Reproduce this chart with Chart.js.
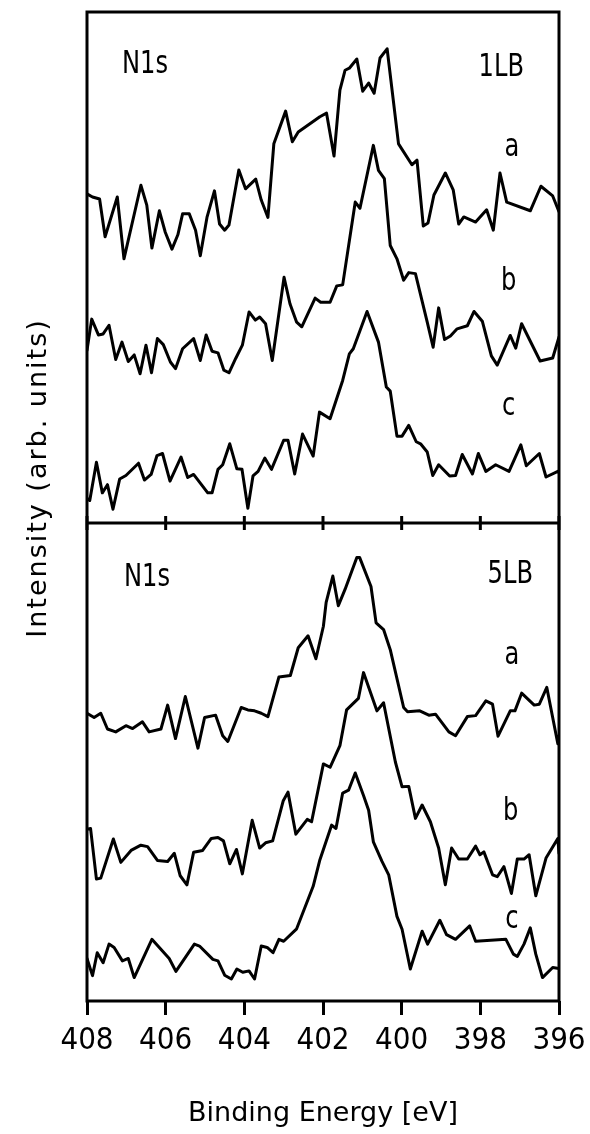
<!DOCTYPE html>
<html>
<head>
<meta charset="utf-8">
<script src="https://cdn.jsdelivr.net/npm/chart.js@4.4.1/dist/chart.umd.min.js"></script>
<style>
  html, body { margin: 0; padding: 0; background: #fff; }
  #wrap { position: relative; width: 590px; height: 1134px; }
</style>
</head>
<body>
<div id="wrap"><canvas id="xps" width="590" height="1134"></canvas></div>
<script>
// N1s spectra, binding energy (eV) vs intensity (arb. units)
// 1LB panel
const e1a = [408.00,407.86,407.68,407.54,407.23,407.06,406.63,406.48,406.35,406.16,406.01,405.84,405.69,405.57,405.40,405.24,405.12,404.95,404.76,404.63,404.50,404.39,404.14,403.97,403.71,403.57,403.40,403.25,402.95,402.78,402.63,402.08,401.91,401.72,401.57,401.44,401.33,401.14,400.99,400.84,400.70,400.55,400.37,400.08,399.74,399.61,399.45,399.33,399.18,398.89,398.69,398.55,398.42,398.12,397.84,397.67,397.50,397.33,396.73,396.46,396.16,396.00];
const i1a = [64.4,63.8,63.4,56.0,63.8,51.7,66.1,62.2,53.8,61.1,56.9,53.6,56.4,60.5,60.5,57.3,52.3,59.8,65.0,58.5,57.3,58.3,69.1,65.4,67.3,63.2,59.8,74.2,80.6,74.6,76.5,79.5,80.2,71.8,84.7,88.6,89.0,90.8,84.5,86.1,84.1,91.0,92.8,74.2,70.1,71.0,58.1,58.7,64.2,68.5,65.2,58.5,59.9,58.9,61.3,57.3,68.5,62.8,61.1,65.9,64.0,60.9];

const e1b = [408.00,407.88,407.71,407.59,407.44,407.27,407.11,406.95,406.80,406.65,406.50,406.36,406.21,406.06,405.88,405.75,405.57,405.29,405.12,404.97,404.82,404.67,404.52,404.39,404.22,404.05,403.88,403.72,403.61,403.46,403.29,402.99,402.84,402.67,402.54,402.20,402.06,401.82,401.65,401.50,401.18,401.06,400.72,400.59,400.44,400.29,400.12,399.95,399.82,399.65,399.35,399.20,399.06,398.91,398.76,398.59,398.33,398.16,397.95,397.72,397.57,397.24,397.10,396.95,396.48,396.16,396.00];
const i1b = [33.8,39.9,36.8,37.0,38.7,32.0,35.4,31.6,32.9,29.2,34.8,29.4,36.1,34.9,31.5,30.2,34.1,36.1,31.8,36.8,33.6,33.3,29.9,29.4,32.2,34.8,41.3,39.7,40.3,39.0,31.8,48.1,42.9,39.3,38.4,44.0,43.2,43.2,46.4,46.6,62.8,61.6,73.9,69.0,67.4,54.3,51.7,47.5,49.0,48.8,39.3,34.4,42.1,35.9,36.6,38.0,38.6,41.4,39.5,32.7,30.9,36.7,34.2,39.0,31.7,32.3,36.4];

const e1c = [408.00,407.93,407.76,407.61,407.48,407.34,407.17,407.01,406.69,406.54,406.37,406.22,406.08,405.89,405.61,405.44,405.29,404.93,404.82,404.67,404.55,404.37,404.19,404.06,403.91,403.78,403.65,403.48,403.31,403.00,402.89,402.72,402.52,402.25,402.09,401.82,401.50,401.33,401.23,400.88,400.59,400.39,400.29,400.12,399.99,399.82,399.63,399.52,399.35,399.21,399.06,398.78,398.63,398.46,398.20,398.05,397.86,397.61,397.27,396.97,396.83,396.50,396.33,396.03,396.00];
const i1c = [4.8,4.4,11.9,5.9,7.5,2.7,8.6,9.3,11.7,8.4,9.5,13.2,13.6,8.2,12.9,8.9,9.5,5.9,5.9,10.5,11.4,15.5,10.6,10.5,2.9,9.2,10.1,12.7,10.5,16.2,16.2,9.6,17.4,13.1,21.7,20.4,27.9,33.1,34.1,41.4,35.4,26.6,25.8,17.0,17.0,19.1,15.9,15.5,13.9,9.3,11.4,9.2,9.3,13.4,9.6,13.6,10.1,11.4,10.1,15.3,11.2,13.6,9.0,10.1,9.8];

// 5LB panel
const e5a = [408.00,407.82,407.65,407.48,407.27,407.01,406.84,406.59,406.42,406.12,405.95,405.75,405.50,405.18,405.01,404.73,404.55,404.42,404.08,403.91,403.74,403.57,403.40,403.12,402.83,402.63,402.38,402.18,401.99,401.92,401.75,401.61,401.44,401.14,401.07,400.78,400.65,400.46,400.29,399.95,399.85,399.54,399.31,399.14,398.80,398.63,398.33,398.12,397.86,397.69,397.55,397.24,397.12,396.95,396.63,396.50,396.31,396.03,396.00];
const i5a = [60.2,59.3,60.2,56.9,56.3,57.6,57.0,58.4,56.3,56.9,61.9,54.9,63.7,52.9,59.3,59.8,55.5,54.3,61.4,60.9,60.7,60.2,59.5,67.8,68.1,73.9,76.4,71.6,78.4,83.4,88.9,82.7,86.1,92.8,92.8,86.7,79.1,77.7,73.5,61.4,60.5,60.7,59.8,60.0,56.3,55.5,59.5,59.7,62.8,62.1,55.4,60.7,60.7,64.4,61.9,62.1,65.6,53.8,55.5];

const e5b = [408.00,407.91,407.76,407.65,407.33,407.14,406.88,406.63,406.46,406.21,405.95,405.78,405.63,405.46,405.29,405.06,404.84,404.67,404.53,404.37,404.20,404.05,403.80,403.61,403.46,403.28,403.01,402.89,402.69,402.40,402.29,401.99,401.82,401.57,401.40,401.10,400.97,400.63,400.46,400.16,399.99,399.82,399.65,399.48,399.27,399.06,398.89,398.73,398.55,398.33,398.12,398.01,397.91,397.69,397.57,397.40,397.21,397.06,396.89,396.76,396.59,396.33,396.03,396.00];
const i5b = [35.9,36.1,25.5,25.7,33.9,29.0,31.5,32.6,32.3,29.4,29.2,30.9,26.2,24.3,31.1,31.5,34.0,34.2,33.5,28.7,31.7,26.6,37.8,32.0,33.1,33.5,41.9,43.7,34.9,38.0,37.5,49.6,48.9,53.4,60.9,63.3,68.7,60.7,62.4,50.0,44.8,44.9,38.2,41.0,37.5,32.0,24.3,32.0,29.7,29.7,32.4,30.6,31.2,26.4,26.0,28.1,22.5,29.7,29.7,30.6,22.0,29.9,34.0,30.9];

const e5c = [408.00,407.86,407.74,407.59,407.44,407.31,407.10,406.95,406.80,406.35,405.91,405.74,405.27,405.14,404.80,404.67,404.50,404.33,404.19,404.04,403.88,403.74,403.57,403.42,403.27,403.12,403.00,402.67,402.25,402.08,401.78,401.67,401.50,401.35,401.18,400.97,400.84,400.72,400.50,400.33,400.12,399.99,399.78,399.48,399.34,399.03,398.86,398.63,398.27,398.12,397.35,397.16,397.06,396.89,396.73,396.59,396.42,396.16,396.00];
const i5c = [8.9,5.3,10.1,8.0,11.9,11.2,8.4,8.9,4.9,12.9,8.9,6.2,11.9,11.5,8.7,8.4,5.4,4.6,6.7,6.0,6.3,4.6,11.5,11.2,10.1,12.9,12.5,15.1,24.0,29.5,36.8,36.1,43.5,44.1,47.7,43.0,39.9,33.3,29.2,26.4,17.7,15.0,6.7,14.6,11.9,16.9,13.9,12.9,15.7,12.5,12.9,9.8,9.3,11.9,15.3,9.8,4.9,7.0,6.8];

const xTicks = [408, 406, 404, 402, 400, 398, 396];

// panel annotations: [text, energy, intensity, align]
const notesTop = [['N1s', 407.11, 89.6, 'left'], ['1LB', 396.89, 89.2, 'right'], ['a', 397.20, 73.4, 'center'], ['b', 397.28, 47.2, 'center'], ['c', 397.28, 22.7, 'center']];
const notesBot = [['N1s', 407.06, 88.6, 'left'], ['5LB', 396.66, 89.1, 'right'], ['a', 397.20, 72.3, 'center'], ['b', 397.23, 39.7, 'center'], ['c', 397.20, 17.0, 'center']];

const NARROW = "'Liberation Sans Narrow', 'DejaVu Sans Condensed', sans-serif";
const PLAIN = "'DejaVu Sans', sans-serif";

const toPts = (xs, ys) => xs.map((x, i) => ({ x: x, y: ys[i] }));
const trace = (xs, ys, axis) => ({
    data: toPts(xs, ys), yAxisID: axis,
    borderColor: '#000', borderWidth: 3, pointRadius: 0, tension: 0, fill: false,
    borderJoinStyle: 'round', borderCapStyle: 'round'
});

// frame, mid divider with crossing ticks, panel labels and y title
const framePlugin = {
    id: 'frame',
    afterDatasetsDraw(chart) {
        const { ctx, chartArea: a, scales } = chart;
        const xs = scales.x, yT = scales.yTop, yB = scales.yBot;
        ctx.save();
        ctx.strokeStyle = '#000';
        ctx.lineWidth = 3;
        ctx.strokeRect(a.left, a.top, a.right - a.left, a.bottom - a.top);
        const mid = yT.bottom;
        ctx.beginPath();
        ctx.moveTo(a.left, mid);
        ctx.lineTo(a.right, mid);
        xTicks.forEach(t => {
            const px = xs.getPixelForValue(t);
            ctx.moveTo(px, mid - 7);
            ctx.lineTo(px, mid + 7);
        });
        ctx.stroke();

        ctx.fillStyle = '#000';
        ctx.font = '32px ' + NARROW;
        ctx.textBaseline = 'middle';
        const put = (notes, ys) => notes.forEach(n => {
            ctx.save();
            ctx.translate(xs.getPixelForValue(n[1]), ys.getPixelForValue(n[2]));
            ctx.scale(0.84, 1);
            ctx.textAlign = n[3];
            ctx.fillText(n[0], 0, 0);
            ctx.restore();
        });
        put(notesTop, yT);
        put(notesBot, yB);

        ctx.font = '27px ' + PLAIN;
        ctx.textAlign = 'center';
        ctx.letterSpacing = '2px';
        ctx.translate(a.left - 48, 478);
        ctx.rotate(-Math.PI / 2);
        ctx.fillText('Intensity (arb. units)', 0, 0);
        ctx.restore();
    }
};

new Chart(document.getElementById('xps'), {
    type: 'line',
    data: {
        datasets: [
            trace(e1a, i1a, 'yTop'), trace(e1b, i1b, 'yTop'), trace(e1c, i1c, 'yTop'),
            trace(e5a, i5a, 'yBot'), trace(e5b, i5b, 'yBot'), trace(e5c, i5c, 'yBot')
        ]
    },
    options: {
        responsive: false,
        animation: false,
        devicePixelRatio: 1,
        layout: { padding: { top: 12, left: 87, right: 31, bottom: 0 } },
        plugins: { legend: { display: false }, tooltip: { enabled: false } },
        scales: {
            x: {
                type: 'linear', min: 396, max: 408, reverse: true,
                afterBuildTicks: s => { s.ticks = xTicks.map(v => ({ value: v })); },
                ticks: { color: '#000', font: { family: NARROW, size: 31 }, padding: 7, maxRotation: 0, autoSkip: false },
                grid: { drawOnChartArea: false, tickLength: 14, color: '#000', lineWidth: 3 },
                border: { display: false },
                title: { display: true, text: 'Binding Energy [eV]', color: '#000', font: { family: PLAIN, size: 27 }, padding: { top: 0, bottom: 4 } },
                afterFit: s => { s.height = 133; s.paddingLeft = 0; s.paddingRight = 0; }
            },
            yBot: { type: 'linear', position: 'left', stack: 'panels', stackWeight: 478, min: 0, max: 100, display: false },
            yTop: { type: 'linear', position: 'left', stack: 'panels', stackWeight: 511, min: 0, max: 100, display: false }
        }
    },
    plugins: [framePlugin]
});
</script>
</body>
</html>
